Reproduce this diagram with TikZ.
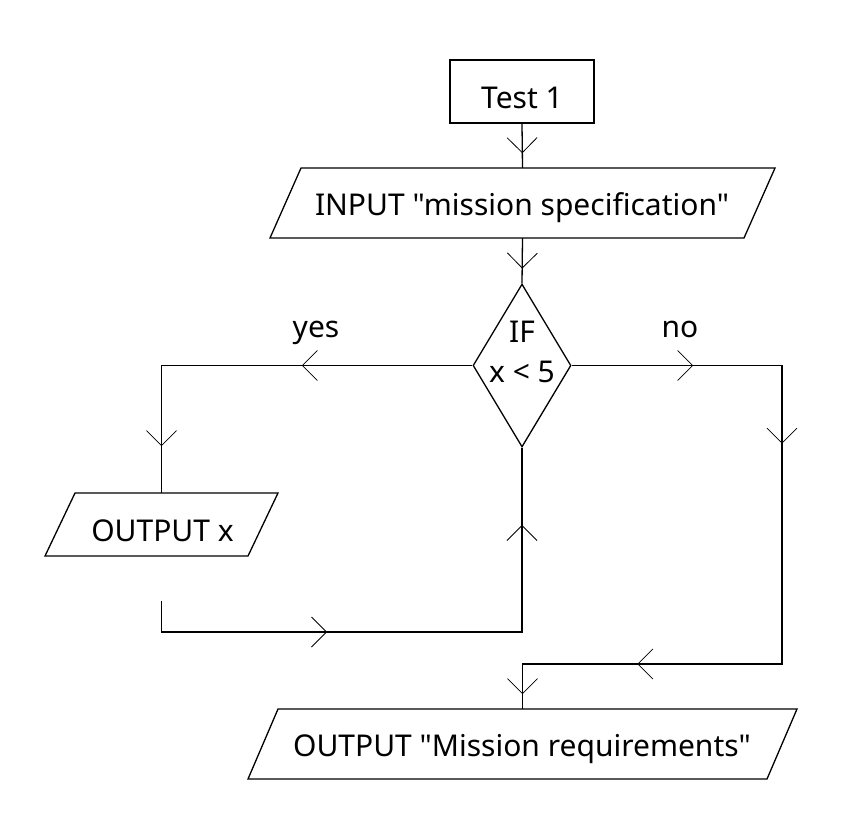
\documentclass[tikz,border=0pt]{standalone}
\usepackage{fontspec}
\setmainfont{Noto Sans}[Ligatures=TeXOff]
\usetikzlibrary{shapes.geometric,decorations.markings}
\tikzset{
  flow/.style={line width=1.3pt},
  chev/.style={postaction={decorate,decoration={markings,mark=at position #1 with {\draw[line width=0.8pt,solid] (-15pt,-15pt) -- (0pt,0pt) -- (-15pt,15pt);}}}},
  txt/.style={anchor=base, inner sep=0pt, font=\fontsize{30}{36}\selectfont},
  pbox/.style={minimum width=#1, inner sep=0pt, outer sep=0pt},
}
\newcommand{\pgram}[2]{% node name, half slant
  \draw[flow] ([xshift=#2]#1.north west) -- ([xshift=#2]#1.north east) -- ([xshift=-#2]#1.south east) -- ([xshift=-#2]#1.south west) -- cycle;}
\begin{document}
\begin{tikzpicture}[x=1pt,y=-1pt]
\useasboundingbox (0,0) rectangle (842,839);
% start box
\node[draw, flow, minimum width=144pt, minimum height=63pt, inner sep=0pt] (test) at (522,91.5) {};
\node[txt] (testt) at (522,108) {Test 1};
% input
\node[pbox=474pt, minimum height=70pt] (in) at (522.5,203) {};
\pgram{in}{15.5pt}
\node[txt] (int) at (522,215) {INPUT "mission specification"};
% decision
\node[diamond, draw, flow, minimum width=98pt, minimum height=163pt, inner sep=0pt] (dia) at (522,365.5) {};
\node[txt] (ift) at (522,342) {IF};
\node[txt] (cond) at (522,382) {x < 5};
\node[txt] (yes) at (316,337) {yes};
\node[txt] (no) at (680,337) {no};
% output x
\node[pbox=203pt, minimum height=63pt] (outx) at (161.5,524.5) {};
\pgram{outx}{15pt}
\node[txt] (outxt) at (162.5,541) {OUTPUT x};
% final output
\node[pbox=519pt, minimum height=70pt] (out) at (522.5,744) {};
\pgram{out}{15pt}
\node[txt] (outt) at (522,756) {OUTPUT "Mission requirements"};
% helper coordinates
\coordinate (nr) at (782,365.5);
\coordinate (nb) at (782,664);
\coordinate (ret) at (161.5,601);
\coordinate (rc) at (161.5,632);
% connectors
\draw[flow, chev=29pt] (test.south) -- (in.north);
\draw[flow, chev=30pt] (in.south) -- (dia.north);
\draw[flow, chev=170pt, chev=391pt] (dia.west) -| (outx.north);
\draw[flow, chev=121pt, chev=288pt, chev=653pt, chev=798pt] (dia.east) -- (nr) -- (nb) -| (out.north);
\draw[flow, chev=196pt, chev=498pt] (ret) -- (rc) -| (dia.south);
\end{tikzpicture}
\end{document}
